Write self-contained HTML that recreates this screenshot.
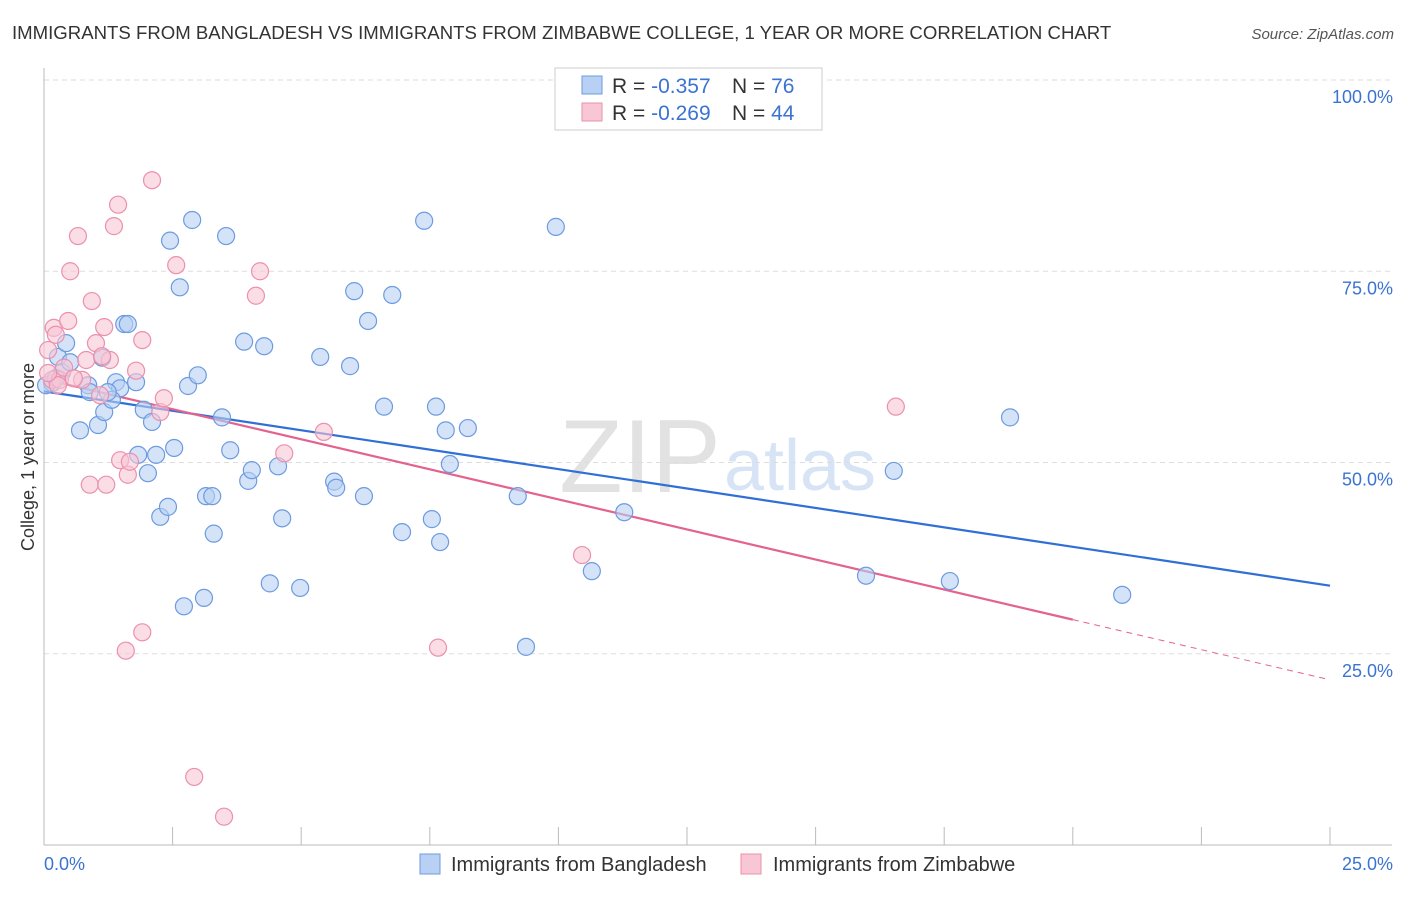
<!DOCTYPE html>
<html><head><meta charset="utf-8"><style>
body{margin:0;background:#fff;font-family:"Liberation Sans",sans-serif}
svg text{font-family:"Liberation Sans",sans-serif}
</style></head><body>
<svg id="chart" width="1406" height="892" xmlns="http://www.w3.org/2000/svg">
<text x="12" y="39" font-size="18.6" fill="#333">IMMIGRANTS FROM BANGLADESH VS IMMIGRANTS FROM ZIMBABWE COLLEGE, 1 YEAR OR MORE CORRELATION CHART</text>
<text x="1394" y="39" font-size="15" fill="#555" font-style="italic" text-anchor="end">Source: ZipAtlas.com</text>
<text x="640" y="492" font-size="104" fill="#e2e2e2" font-family="Liberation Serif" text-anchor="middle">ZIP</text>
<text x="800" y="490" font-size="72" fill="#d6e4f5" text-anchor="middle">atlas</text>
<g id="grid"></g><g id="axes"></g><g id="lines"></g><g id="pts"></g>
<text transform="translate(34,457) rotate(-90)" font-size="18" fill="#333" text-anchor="middle">College, 1 year or more</text>
<g>
<rect x="555" y="68" width="267" height="62" fill="#fff" stroke="#ccc"/>
<rect x="582" y="76" width="20" height="18" fill="#b8d0f3" stroke="#6d9be0"/>
<rect x="582" y="103" width="20" height="18" fill="#f9c6d5" stroke="#ec90ad"/>
<text x="612" y="93" font-size="21" fill="#333">R = <tspan fill="#3b73d1">-0.357</tspan><tspan x="732">N = </tspan><tspan fill="#3b73d1">76</tspan></text>
<text x="612" y="120" font-size="21" fill="#333">R = <tspan fill="#3b73d1">-0.269</tspan><tspan x="732">N = </tspan><tspan fill="#3b73d1">44</tspan></text>
</g>
<g>
<rect x="420" y="854" width="20" height="20" fill="#b8d0f3" stroke="#6d9be0"/>
<text x="451" y="871" font-size="20" fill="#333">Immigrants from Bangladesh</text>
<rect x="741" y="854" width="20" height="20" fill="#f9c6d5" stroke="#ec90ad"/>
<text x="773" y="871" font-size="20" fill="#333">Immigrants from Zimbabwe</text>
</g>
</svg>
<script>
const blueX=[0.16,0.27,0.43,0.35,0.51,0.70,0.86,1.05,1.17,1.13,1.40,1.48,1.56,1.63,1.79,1.32,1.94,2.10,1.83,2.02,2.18,2.26,2.41,2.53,2.45,2.64,2.72,2.80,2.88,2.99,3.11,3.15,3.27,3.30,3.46,3.54,3.62,3.89,3.97,4.04,4.28,4.39,4.55,4.63,4.98,5.37,5.64,5.68,5.95,6.03,6.22,6.30,6.61,6.77,6.96,7.39,7.54,7.62,7.70,7.81,7.89,8.24,9.21,9.37,9.95,10.65,11.28,15.98,16.52,17.61,18.78,20.96,0.04,0.23,0.89,1.24];
const blueY=[60.4,63.8,65.6,61.8,63.1,54.2,60.1,54.9,56.6,63.7,60.5,59.7,68.1,68.1,60.5,58.2,56.9,55.3,51.0,48.6,51.0,42.9,44.2,51.9,79.0,72.9,31.2,60.0,81.7,61.4,32.3,45.6,45.6,40.7,55.9,79.6,51.6,65.8,47.6,49.0,65.2,34.2,49.5,42.7,33.6,63.8,47.5,46.7,62.6,72.4,45.6,68.5,57.3,71.9,40.9,81.6,42.6,57.3,39.6,54.2,49.8,54.5,45.6,25.9,80.8,35.8,43.5,35.2,48.9,34.5,55.9,32.7,60.1,61.0,59.2,59.2];
const pinkX=[0.16,0.19,0.23,0.31,0.39,0.47,0.51,0.66,0.74,0.89,0.93,1.01,1.09,1.17,1.21,1.28,1.36,1.44,1.48,1.59,1.63,1.67,1.79,1.91,1.91,2.10,2.26,2.33,2.57,2.92,3.50,4.12,4.20,4.67,5.44,7.66,10.46,16.56,0.08,0.27,0.58,0.82,1.13,0.08];
const pinkY=[60.8,67.6,66.7,60.8,62.4,68.5,75.0,79.6,60.8,47.1,71.1,65.6,58.8,67.7,47.1,63.4,80.9,83.7,50.3,25.4,48.4,50.1,62.0,66.0,27.8,86.9,56.6,58.4,75.8,8.9,3.7,71.8,75.0,51.2,54.0,25.8,37.9,57.3,64.7,60.1,61.0,63.4,63.9,61.7];
const blueTrend=[59.3,33.9];
const pinkTrend=[60.9,21.6];
const yTicks=[25,50,75,100];
const NS="http://www.w3.org/2000/svg";
const sx=v=>44+v*1286/25, sy=v=>845-v*7.65;
function mk(t,a,p){const e=document.createElementNS(NS,t);for(const k in a)e.setAttribute(k,a[k]);document.getElementById(p).appendChild(e);return e;}
yTicks.forEach(t=>{
 const g=mk('line',{x1:44,x2:1392,y1:sy(t),y2:sy(t),stroke:'#ddd','stroke-dasharray':'5,4'},'grid');
 
 
 const l=mk('text',{x:1393,y:sy(t)+23,'font-size':18,fill:'#3b73d1','text-anchor':'end'},'axes');
 l.textContent=t.toFixed(1)+'%';
 
 
});
const ax=mk('line',{x1:44,x2:44,y1:68,y2:845,stroke:'#bbb'},'axes');


const bx=mk('line',{x1:44,x2:1392,y1:845,y2:845,stroke:'#bbb'},'axes');


for(let i=0;i<=10;i++){const t=mk('line',{x1:sx(i*2.5),x2:sx(i*2.5),y1:827,y2:845,stroke:'#bbb'},'axes');
 
 }
[[0,'0.0%','start',44],[25,'25.0%','end',1393]].forEach(d=>{const t=mk('text',{x:d[3],y:870,'font-size':18,fill:'#3b73d1','text-anchor':d[2]},'axes');t.textContent=d[1];
 
 });
function dots(X,Y,f,s,n){X.forEach((x,i)=>{const c=mk('circle',{cx:sx(x),cy:sy(Y[i]),r:8.5,fill:f,'fill-opacity':0.6,stroke:s,'stroke-width':1.2},'pts');
 
 });}
dots(blueX,blueY,'#b8d0f3','#6d9be0','bangladesh-point');
dots(pinkX,pinkY,'#f9c6d5','#ec90ad','zimbabwe-point');
const bl=mk('line',{x1:sx(0),y1:sy(blueTrend[0]),x2:sx(25),y2:sy(blueTrend[1]),stroke:'#2f6fd6','stroke-width':2.2},'lines');


const pm=v=>pinkTrend[0]+(pinkTrend[1]-pinkTrend[0])*v/25;
const pl=mk('line',{x1:sx(0),y1:sy(pm(0)),x2:sx(20),y2:sy(pm(20)),stroke:'#e3628e','stroke-width':2.2},'lines');


const pd=mk('line',{x1:sx(20),y1:sy(pm(20)),x2:sx(25),y2:sy(pm(25)),stroke:'#e3628e','stroke-width':1,'stroke-dasharray':'6,5'},'lines');


</script>
</body></html>
